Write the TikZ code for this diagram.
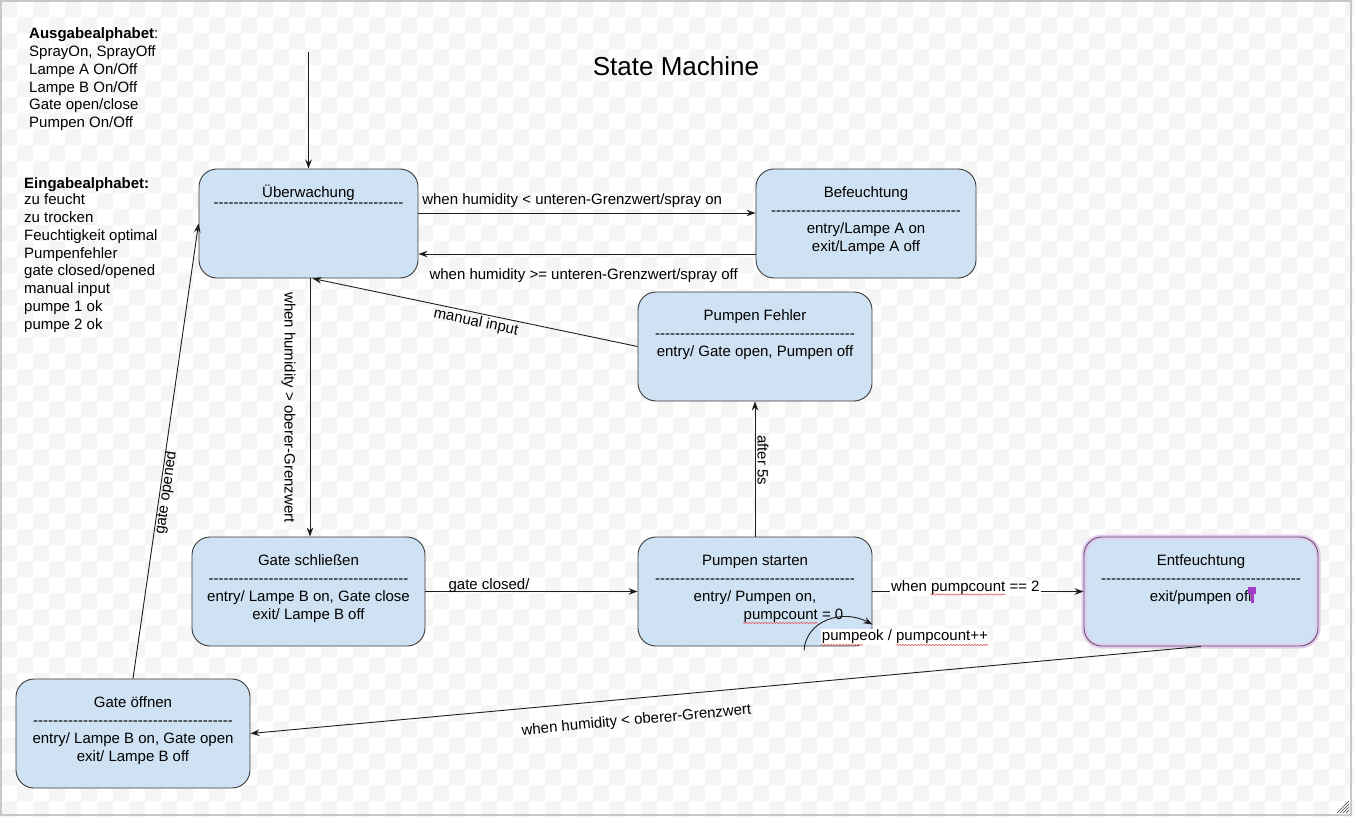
\documentclass[tikz,border=0pt]{standalone}
\usepackage{fontspec}
\setmainfont{Liberation Sans}
\usetikzlibrary{arrows.meta, positioning, decorations.pathmorphing}

\definecolor{stateBlue}{HTML}{CFE2F3}
\definecolor{stateBorder}{HTML}{3A3A3A}
\definecolor{lineBlack}{HTML}{1E1E1E}
\definecolor{bgGray}{HTML}{F5F5F5}
\definecolor{frameGray}{HTML}{C8C8C8}
\definecolor{glowPurple}{HTML}{E2CCEC}
\definecolor{borderPurple}{HTML}{62506E}
\definecolor{cursorPurple}{HTML}{A33CC6}
\definecolor{squiggleRed}{HTML}{E05A5A}

% row of hyphens without the TeX dash ligature
\newcommand\dashLine[1]{\foreach\k in {1,...,#1}{-\kern0pt}}

\tikzset{
    objState/.style={rectangle, rounded corners=18pt, minimum width=234pt, minimum height=109pt, draw=stateBorder, line width=0.9pt, fill=stateBlue},
    objText/.style={align=center, inner sep=0pt, font=\fontsize{15}{18}\selectfont, execute at begin node=\strut},
    listText/.style={align=left, inner sep=0pt, anchor=north west, font=\fontsize{15}{17.8}\selectfont, execute at begin node=\strut},
    lblText/.style={font=\fontsize{15}{18}\selectfont, inner sep=2pt},
    arrow/.style={line width=0.9pt, draw=lineBlack, -{Stealth[length=9pt, width=6.5pt]}},
    squiggle/.style={draw=squiggleRed, line width=0.6pt, decorate, decoration={snake, amplitude=0.7pt, segment length=3pt}}
}

\begin{document}
\begin{tikzpicture}[x=1pt, y=-1pt]
    \useasboundingbox (0,0) rectangle (1354,818);

    % checkered background
    \fill[white] (0,0) rectangle (1354,818);
    \foreach \j in {0,...,51}{
        \pgfmathtruncatemacro\off{mod(\j,2)*16-15}
        \fill[bgGray] \foreach \i in {0,...,42}{(\off+32*\i, 16*\j-15) rectangle ++(16,16)};
    }
    \draw[frameGray, line width=2pt] (1,1) rectangle (1351,815);
    \foreach \d in {3,6,9,12}
        \draw[black!75, line width=0.6pt] (1349-\d,813) -- (1349,813-\d);

    \node (title) at (676,66) {\fontsize{26}{30}\selectfont State Machine};

    \node (ausgabe) [listText] at (29,27.7) {\textbf{Ausgabealphabet}:\\SprayOn, SprayOff\\Lampe A On/Off\\Lampe B On/Off\\Gate open/close\\Pumpen On/Off};
    \node (eingabe) [listText] at (24,177.7) {\textbf{Eingabealphabet:}\\[-1.8pt]zu feucht\\zu trocken\\Feuchtigkeit optimal\\Pumpenfehler\\gate closed/opened\\manual input\\pumpe 1 ok\\pumpe 2 ok};

    \node (001) [objState, minimum width=219pt] at (308.5,223.5) {};
    \node (002) [objState, minimum width=220pt] at (866,223.5) {};
    \node (003) [objState] at (755,346.5) {};
    \node (004) [objState, minimum width=233pt] at (308.5,591.5) {};
    \node (005) [objState] at (755,591.5) {};
    \node (006) [objState, draw=none, postaction={draw=glowPurple, line width=5pt}, postaction={draw=borderPurple, line width=0.9pt}] at (1201,591.5) {};
    \node (007) [objState] at (133,733.5) {};

    \node (001txt) [objText, below=16pt of 001.north] {Überwachung\\[-7.7pt]\dashLine{38}};
    \node (002txt) [objText, below=18pt of 002.north] {Befeuchtung\\\dashLine{38}\\entry/Lampe A on\\exit/Lampe A off};
    \node (003txt) [objText, below=18pt of 003.north] {Pumpen Fehler\\\dashLine{40}\\entry/ Gate open, Pumpen off};
    \node (004txt) [objText, below=18pt of 004.north] {Gate schließen\\\dashLine{40}\\entry/ Lampe B on, Gate close\\exit/ Lampe B off};
    \node (005txt) [objText, below=18pt of 005.north] {Pumpen starten\\\dashLine{40}\\entry/ Pumpen on,\\\hspace*{77pt}pumpcount = 0};
    \node (006txt) [objText, below=18pt of 006.north] {Entfeuchtung\\\dashLine{40}\\exit/pumpen off};
    \node (007txt) [objText, below=18pt of 007.north] {Gate öffnen\\\dashLine{40}\\entry/ Lampe B on, Gate open\\exit/ Lampe B off};

    \fill[cursorPurple] (1248,587) rectangle (1256,594);
    \fill[cursorPurple] (1251,594) rectangle (1253.5,603);

    \coordinate (start) at (308.5,52);

    \draw [arrow] (start) -- (001.north);
    \draw [arrow] ([yshift=10.5pt]001.east) -- node[lblText, above=3pt, pos=0.456] {when humidity < unteren-Grenzwert/spray on} ([yshift=10.5pt]002.west);
    \draw [arrow] ([yshift=-30.5pt]002.west) -- node[lblText, below=12pt, pos=0.51] {when humidity >= unteren-Grenzwert/spray off} ([yshift=-30.5pt]001.east);
    \draw [arrow] ([xshift=1.5pt]001.south) -- node[lblText, midway, xshift=-12pt, rotate=-90, anchor=north] {when humidity > oberer-Grenzwert} ([xshift=1.5pt]004.north);
    \draw [arrow] (003.west) -- node[lblText, midway, sloped, anchor=north, xshift=3pt] {manual input} ([xshift=4pt]001.south);
    \draw [arrow] (004.east) -- node[lblText, pos=0.3, anchor=base, yshift=2.5pt] {gate closed/} (005.west);
    \draw [arrow] (005.north) -- node[lblText, pos=0.566, rotate=-90, anchor=south] {after 5s} (003.south);
    \draw [arrow] (005.east) -- node[lblText, pos=0.44, anchor=base, fill=white, inner sep=1pt] {when pumpcount == 2} (006.west);
    \draw [arrow] (006.south) -- node[lblText, pos=0.596, sloped, anchor=north, yshift=-13pt] {when humidity < oberer-Grenzwert} (007.east);
    \draw [arrow] (007.north) -- node[lblText, pos=0.41, sloped, anchor=north, inner sep=0pt, yshift=1pt] {gate opened} (001.west);

    \node (loopLbl) [lblText, anchor=base west, fill=white, inner sep=1pt] at (820.7,640.5) {pumpeok / pumpcount++};
    \draw [arrow] ([xshift=49pt, yshift=-4pt]005.south) .. controls +(2,-30) and +(-30,-16) .. ([yshift=-33pt]005.east);

    \draw [squiggle] (743,623) -- (818,623);
    \draw [squiggle] (930,594.5) -- (1005,594.5);
    \draw [squiggle] (821,645) -- (863,645);
    \draw [squiggle] (896,645) -- (988,645);

\end{tikzpicture}
\end{document}
